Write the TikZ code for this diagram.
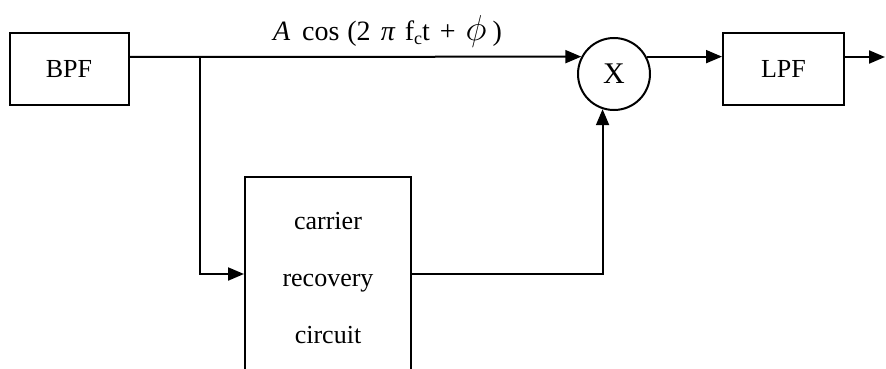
\documentclass[tikz,border=0pt]{standalone}
\usepackage{fontspec}
\usepackage{graphicx}
\setmainfont{Liberation Serif}
\usetikzlibrary{arrows.meta}
\begin{document}
\begin{tikzpicture}[x=1pt,y=-1pt,line width=2pt,
  blk/.style={draw,rectangle,line width=2pt,inner sep=0pt,font=\fontsize{26}{30}\selectfont},
  arr/.style={line width=2pt,-{Triangle[length=16pt,width=13pt]}},
  lbl/.style={font=\fontsize{28}{30}\selectfont,inner sep=0pt}]
\useasboundingbox (0,0) rectangle (886,369);
\fill[white] (0,0) rectangle (886,369);
\node[blk,minimum width=119pt,minimum height=71pt] (bpf) at (69,69) {BPF};
\node[blk,circle,minimum size=72pt,font=\fontsize{30}{30}\selectfont] (mix) at (614,74) {X};
\node[blk,minimum width=121pt,minimum height=72pt] (lpf) at (783.5,69) {LPF};
\node[blk,minimum width=166pt,minimum height=203pt,align=center,
  font=\fontsize{26}{57}\selectfont] (car) at (328,278.5) {carrier\\recovery\\circuit};
\node[lbl,anchor=base west] (sig) at (272,41) {{\itshape A}\hspace{12pt}cos\hspace{8pt}(2\hspace{10pt}{\itshape π}\hspace{10pt}f\raisebox{-4pt}{\fontsize{18}{20}\selectfont c}t\hspace{10pt}+\hspace{10pt}\scalebox{1.45}{$\phi$}\hspace{6pt})};
\coordinate (ml) at (0,57);
\coordinate (lv) at (0,274);
\coordinate (br) at (200,57);
\coordinate (out) at (885,57);
\draw[arr] (bpf.east |- ml) -- (mix.152);
\draw[arr] (br) |- (car.west |- lv);
\draw[arr] (car.east |- lv) -| (mix.252);
\draw[arr] (mix.28) -- (lpf.west |- mix.28);
\draw[arr] (lpf.east |- ml) -- (out);
\end{tikzpicture}
\end{document}
